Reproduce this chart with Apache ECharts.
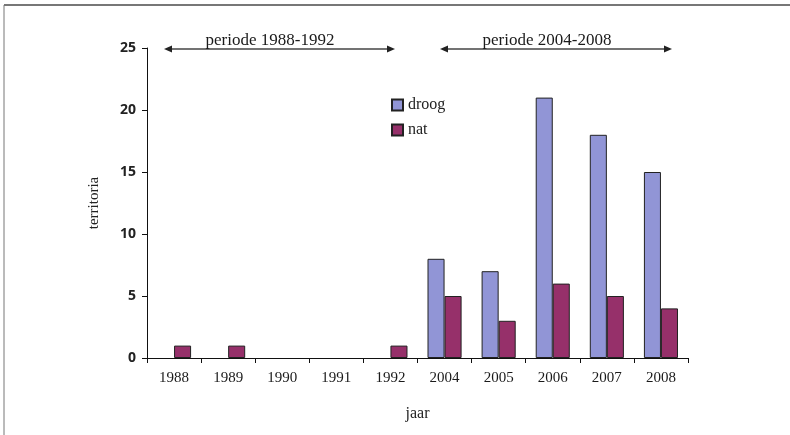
<!DOCTYPE html>
<html><head><meta charset="utf-8">
<script src="https://cdn.jsdelivr.net/npm/echarts@6/dist/echarts.min.js"></script>
<style>html,body{margin:0;padding:0;background:#fff}#c{width:790px;height:435px}</style>
</head><body><div id="c"></div>
<script>
const categories = ['1988','1989','1990','1991','1992','2004','2005','2006','2007','2008'];
const droog = [0,0,0,0,0,8,7,21,18,15];
const nat = [1,1,0,0,1,5,3,6,5,4];
const yTicks = {min:0, max:25, interval:5};
const periodLabels = ['periode 1988-1992','periode 2004-2008'];

const chart = echarts.init(document.getElementById('c'), null, {renderer:'canvas'});
const serif = '"Liberation Serif","DejaVu Serif",serif';
const hideZero = arr => arr.map(v => v === 0 ? {value:v, itemStyle:{opacity:0}} : v);
const arrow = (x1,x2,y)=>[
  {type:'line', shape:{x1:x1+4,y1:y,x2:x2-4,y2:y}, style:{stroke:'#444',lineWidth:1.5}},
  {type:'polygon', shape:{points:[[x1,y],[x1+8,y-3.5],[x1+8,y+3.5]]}, style:{fill:'#222'}},
  {type:'polygon', shape:{points:[[x2,y],[x2-8,y-3.5],[x2-8,y+3.5]]}, style:{fill:'#222'}}
];
chart.setOption({
  animation:false,
  grid:{left:147, right:102, top:48, bottom:77, containLabel:false},
  legend:{
    data:['droog','nat'], orient:'vertical', left:386, top:92,
    itemWidth:11, itemHeight:11, itemGap:9,
    textStyle:{fontFamily:serif, fontSize:16, color:'#222'},
    icon:'rect'
  },
  xAxis:{
    type:'category', data:categories, name:'jaar', nameLocation:'middle', nameGap:48,
    nameTextStyle:{fontFamily:serif, fontSize:16, color:'#222'},
    axisLine:{lineStyle:{color:'#111', width:1}},
    axisTick:{show:true, length:5, lineStyle:{color:'#111'}},
    axisLabel:{fontFamily:serif, fontSize:15, color:'#1a1a1a', margin:13}
  },
  yAxis:{
    type:'value', min:yTicks.min, max:yTicks.max, interval:yTicks.interval,
    name:'territoria', nameLocation:'middle', nameGap:45,
    nameTextStyle:{fontFamily:serif, fontSize:15, color:'#222'},
    axisLine:{show:true, lineStyle:{color:'#111', width:1}},
    axisTick:{show:true, length:5, lineStyle:{color:'#111'}},
    axisLabel:{fontFamily:'"Open Sans",sans-serif', fontWeight:'bold', fontSize:14, color:'#222', margin:11},
    splitLine:{show:false}
  },
  series:[
    {name:'droog', type:'bar', data:hideZero(droog), barGap:'0%', barCategoryGap:'37%',
     itemStyle:{color:'#9195d6', borderColor:'#222', borderWidth:1}},
    {name:'nat', type:'bar', data:hideZero(nat),
     itemStyle:{color:'#96306a', borderColor:'#222', borderWidth:1}}
  ],
  graphic:[
    {type:'line', shape:{x1:4,y1:5,x2:790,y2:5}, style:{stroke:'#777',lineWidth:2}},
    {type:'line', shape:{x1:4,y1:5,x2:4,y2:435}, style:{stroke:'#777',lineWidth:1}},
    ...arrow(164,395,49), ...arrow(440,672,49),
    {type:'text', x:270, y:41, style:{text:periodLabels[0], font:'17px '+serif, fill:'#1a1a1a', textAlign:'center', textVerticalAlign:'middle'}},
    {type:'text', x:547, y:41, style:{text:periodLabels[1], font:'17px '+serif, fill:'#1a1a1a', textAlign:'center', textVerticalAlign:'middle'}}
  ]
});
</script></body></html>
